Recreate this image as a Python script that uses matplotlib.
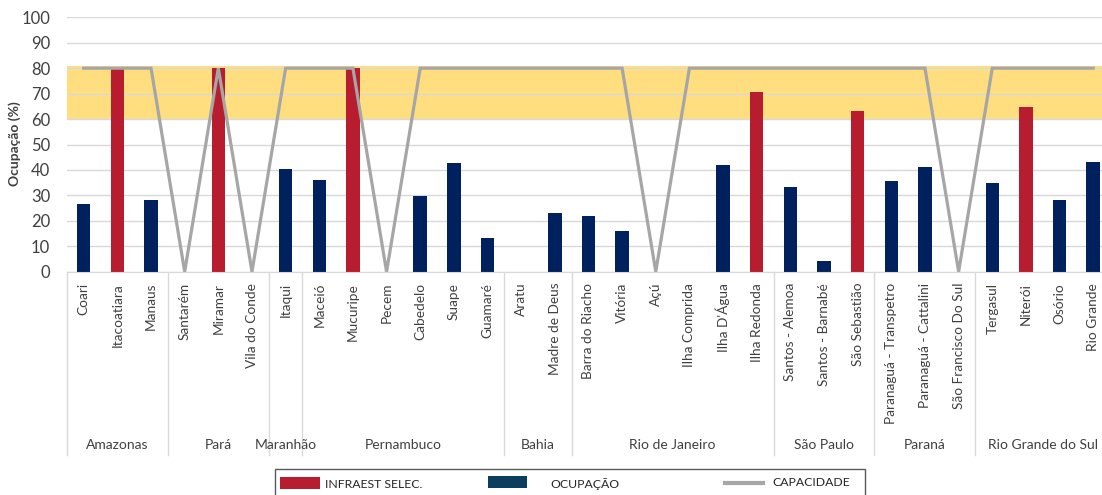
import matplotlib
matplotlib.use("Agg")
import matplotlib.pyplot as plt
import matplotlib.transforms as mtransforms
from matplotlib.patches import Rectangle
from matplotlib.lines import Line2D

plt.rcParams["font.family"] = ["Lato", "DejaVu Sans"]

terminals = ["Coari", "Itacoatiara", "Manaus",
             "Santarém", "Miramar", "Vila do Conde",
             "Itaqui",
             "Maceió", "Mucuripe", "Pecem", "Cabedelo", "Suape", "Guamaré",
             "Aratu", "Madre de Deus",
             "Barra do Riacho", "Vitória", "Açú", "Ilha Comprida", "Ilha D'Água", "Ilha Redonda",
             "Santos - Alemoa", "Santos - Barnabé", "São Sebastião",
             "Paranaguá - Transpetro", "Paranaguá - Cattalini", "São Francisco Do Sul",
             "Tergasul", "Niterói", "Osório", "Rio Grande"]
states = ["Amazonas", "Pará", "Maranhão", "Pernambuco", "Bahia",
          "Rio de Janeiro", "São Paulo", "Paraná", "Rio Grande do Sul"]
state_sizes = [3, 3, 1, 6, 2, 6, 3, 3, 4]

ocupacao = [26.5, 0, 28.2,
            0, 0, 0,
            40.4,
            35.9, 0, 0, 29.9, 42.8, 13.2,
            0, 23.0,
            22.0, 16.0, 0, 0, 41.9, 0,
            33.2, 4.2, 0,
            35.8, 41.3, 0,
            34.9, 0, 28.2, 43.1]
selecionada = [0, 79.5, 0,
               0, 80.0, 0,
               0,
               0, 80.0, 0, 0, 0, 0,
               0, 0,
               0, 0, 0, 0, 0, 70.8,
               0, 0, 63.2,
               0, 0, 0,
               0, 64.7, 0, 0]
capacidade = [80, 80, 80,
              0, 80, 0,
              80,
              80, 80, 0, 80, 80, 80,
              80, 80,
              80, 80, 0, 80, 80, 80,
              80, 80, 80,
              80, 80, 0,
              80, 80, 80, 80]

W, H = 1102, 495
fig = plt.figure(figsize=(W / 100, H / 100), dpi=100)
x_left, x_right = 66.9, 66.9 + 31 * 33.65
y_top, y_bot = 17.3, 271.7
ax = fig.add_axes([x_left / W, 1 - y_bot / H, (x_right - x_left) / W, (y_bot - y_top) / H])

x = list(range(len(terminals)))
navy = "#00205E"
red = "#B71C2F"
grey = "#A6A6A6"

ax.axhspan(59.5, 81, color="#FFDE80", zorder=0.2, lw=0)
ax.bar(x, ocupacao, width=0.4, color=navy, zorder=2)
ax.bar(x, selecionada, width=0.4, color=red, zorder=2)
ax.plot(x, capacidade, color=grey, lw=2.3, zorder=3, solid_joinstyle="miter")

ax.set_xlim(-0.5, len(terminals) - 0.5)
ax.set_ylim(0, 100)
ax.set_yticks(range(0, 101, 10))
ax.yaxis.grid(True, color="#D9D9D9", lw=1)
ax.set_axisbelow(True)
for s in ["top", "right", "left"]:
    ax.spines[s].set_visible(False)
ax.spines["bottom"].set_color("#D9D9D9")
ax.tick_params(axis="y", length=0, pad=12, labelsize=12, labelcolor="#404040")
ax.set_xticks(x)
ax.set_xticklabels(terminals, rotation=90, fontsize=9.8, color="#404040")
ax.tick_params(axis="x", length=0, pad=8)
fig.text(15 / W, 1 - 144 / H, "Ocupação (%)", rotation=90, ha="center", va="center",
         fontsize=10, fontweight="bold", color="#404040")

# state group labels and separators
tr = mtransforms.blended_transform_factory(ax.transData, fig.transFigure)
pos = -0.5
for st, n in zip(states, state_sizes):
    ax.plot([pos, pos], [1 - y_bot / H, 1 - 455 / H], transform=tr, color="#D9D9D9",
            lw=1, clip_on=False)
    ax.text(pos + n / 2, 1 - 445 / H, st, transform=tr, ha="center", va="center",
            fontsize=10, color="#404040")
    pos += n
ax.plot([pos, pos], [1 - y_bot / H, 1 - 455 / H], transform=tr, color="#D9D9D9",
        lw=1, clip_on=False)

# legend box (cut at bottom edge)
fig.add_artist(Rectangle((275 / W, -0.05), 590 / W, 0.05 + 1 - 469 / H, transform=fig.transFigure,
                         fill=False, edgecolor="#595959", lw=1))
fig.add_artist(Rectangle((280 / W, 1 - 489 / H), 40 / W, 12 / H, transform=fig.transFigure,
                         color=red, lw=0))
fig.text(325 / W, 1 - 484 / H, "INFRAEST SELEC.", fontsize=8.8, va="center", color="#262626")
fig.add_artist(Rectangle((488 / W, 1 - 488 / H), 39 / W, 12 / H, transform=fig.transFigure,
                         color="#0B3D5C", lw=0))
fig.text(550 / W, 1 - 484 / H, "OCUPAÇÃO", fontsize=8.8, va="center", color="#262626")
fig.add_artist(Line2D([725 / W, 763 / W], [1 - 483 / H, 1 - 483 / H], transform=fig.transFigure,
                      color=grey, lw=3))
fig.text(772 / W, 1 - 483 / H, "CAPACIDADE", fontsize=8.8, va="center", color="#262626")

fig.savefig("out.png", dpi=100)
